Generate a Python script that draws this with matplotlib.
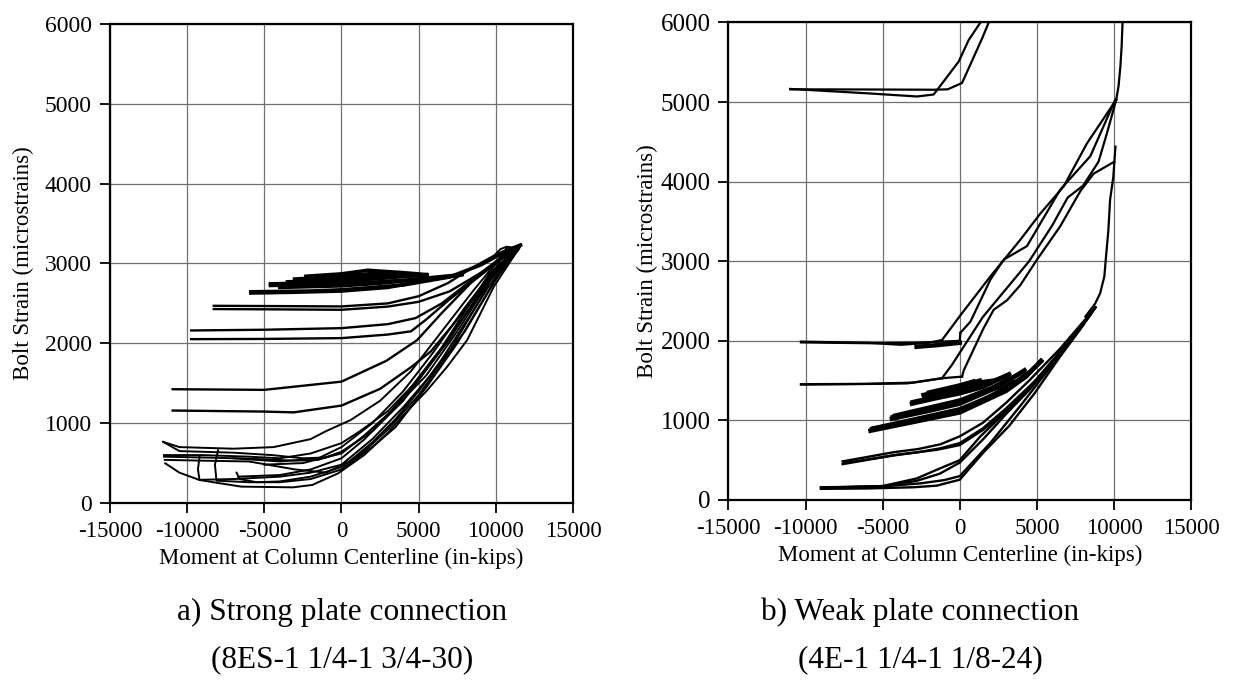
import matplotlib
matplotlib.use("Agg")
import matplotlib.pyplot as plt

plt.rcParams['font.family'] = ['Liberation Serif', 'DejaVu Serif']
plt.rcParams['axes.unicode_minus'] = False

# ---- common axis data ----
x_ticks = [-15000, -10000, -5000, 0, 5000, 10000, 15000]
y_ticks = [0, 1000, 2000, 3000, 4000, 5000, 6000]
x_label = 'Moment at Column Centerline (in-kips)'
y_label = 'Bolt Strain (microstrains)'

# ---- a) strong plate (moment, strain) ----
# dense band at the top (late cycles)
strong_band_x = [
    [-5870, -3000, 0, 3000, 5500, 7800],
    [-5870, -2000, 0, 4000, 7000, 9000, 10800, 11600],
    [-4600, -2000, 0, 3000, 5500],
    [-4600, 0, 4000, 7800],
    [-3040, 0, 2000, 4000],
    [-2300, 0, 1700, 4000, 5550],
    [-2300, 0, 3000, 5550],
    [-3500, 0, 2500, 4200],
    [-4000, 0, 3000, 5000],
]
strong_band_y = [
    [2630, 2640, 2655, 2700, 2790, 2860],
    [2645, 2655, 2670, 2730, 2830, 2980, 3170, 3230],
    [2745, 2755, 2775, 2820, 2860],
    [2725, 2740, 2790, 2860],
    [2805, 2840, 2875, 2870],
    [2840, 2870, 2915, 2885, 2860],
    [2815, 2815, 2840, 2850],
    [2770, 2800, 2850, 2860],
    [2700, 2720, 2760, 2800],
]
# pairs of flat branches at 2450, 2100 and 1300 microstrain
strong_pair_x = [
    [-8275, -4000, 0, 3000, 5000, 6900, 8500, 10200, 11600],
    [-8275, -4000, 0, 3000, 5000, 7000, 9000, 11000],
    [-9740, -5000, 0, 3000, 4800, 6500, 8500, 10500, 11500],
    [-9740, -5000, 0, 3000, 4500, 5500, 7000, 9000, 11000],
    [-10940, -5000, 0, 2900, 4900, 6500, 8500, 10500, 11500],
    [-10940, -5000, -3100, 0, 2500, 4500, 5800, 7500, 9500, 11200],
]
strong_pair_y = [
    [2470, 2466, 2462, 2500, 2590, 2755, 2950, 3130, 3230],
    [2429, 2425, 2420, 2460, 2520, 2650, 2880, 3150],
    [2161, 2170, 2190, 2240, 2316, 2500, 2800, 3100, 3220],
    [2052, 2055, 2065, 2110, 2150, 2300, 2550, 2850, 3150],
    [1425, 1417, 1520, 1780, 2040, 2380, 2780, 3100, 3220],
    [1158, 1145, 1135, 1220, 1430, 1700, 1900, 2300, 2800, 3180],
]
# early cycles near the bottom
strong_low_x = [
    [-11550, -10500, -7000, -4400, -2000, -1000, 600, 2500, 4500, 6500, 8500, 10200, 11600],
    [-11550, -10500, -7000, -4500, -2500, -1000, 0, 2000, 4000, 6000, 8000, 10000, 11500],
    [-11500, -9000, -6000, -3000, -1500, 0, 2000, 4000, 6000, 8000, 10000, 11500],
    [-11420, -10500, -9200, -6500, -3140, -1890, -210, 1470, 3000, 4000, 5500, 6840, 8140, 9870, 11600],
    [-11450, -9000, -6000, -3000, -1000, 500, 2000, 3500, 5000, 6500, 8000, 9500, 11000],
    [-9200, -9300, -9200, -7000, -4000, -2000, 0, 2000, 4000, 6000, 8000, 10000, 11600],
    [-8000, -8200, -8100, -6000, -4000, -2000, 0, 2000, 3500, 5500, 7500, 9500, 11300],
    [-6800, -6600, -5500, -4000, -2000, 0, 1500, 3000, 5000, 7000, 9000, 10700],
    [-6700, -4000, -2000, 0, 1500, 3000, 4500, 6500, 8500, 10500],
    [-11500, -9000, -6000, -4000, -2000, 0, 1200, 3000, 5000, 7000, 9000, 11000],
    [-7000, -4000, -1500, 0, 2000, 4000, 6000, 8000, 10000, 11600],
    [-5000, -2500, 0, 1500, 3500, 5500, 7500, 9500, 11400],
    [9800, 10300, 10700, 11100, 11600, 11500, 11000],
]
strong_low_y = [
    [765, 700, 680, 700, 800, 900, 1040, 1280, 1650, 2150, 2650, 3050, 3230],
    [765, 650, 630, 600, 560, 570, 640, 900, 1300, 1800, 2350, 2900, 3200],
    [580, 570, 555, 530, 540, 640, 900, 1280, 1800, 2350, 2900, 3200],
    [497, 380, 288, 205, 196, 226, 372, 600, 880, 1100, 1400, 1705, 2040, 2710, 3220],
    [540, 530, 520, 420, 380, 520, 760, 1050, 1400, 1800, 2250, 2700, 3100],
    [580, 420, 290, 300, 330, 380, 480, 800, 1200, 1650, 2150, 2800, 3230],
    [660, 480, 280, 260, 260, 300, 420, 700, 950, 1450, 2000, 2650, 3200],
    [380, 300, 260, 270, 330, 450, 650, 920, 1350, 1900, 2550, 3200],
    [330, 350, 420, 560, 800, 1100, 1450, 1950, 2550, 3150],
    [600, 600, 580, 560, 620, 750, 900, 1150, 1550, 2050, 2650, 3150],
    [560, 520, 560, 700, 1000, 1400, 1900, 2450, 2950, 3230],
    [480, 500, 620, 850, 1200, 1600, 2150, 2750, 3210],
    [3080, 3180, 3210, 3200, 3240, 3180, 3060],
]

# ---- b) weak plate ----
weak_top_x = [
    [1340, 580, -65, -1690, -2770, -6000, -11000],
    [-11000, -6000, -1690, -780, 150, 1450, 1880],
    [10150, 10300, 10420, 10500, 10560],
]
weak_top_y = [
    [6000, 5780, 5510, 5095, 5070, 5110, 5165],
    [5160, 5158, 5155, 5160, 5240, 5800, 6000],
    [5030, 5200, 5450, 5700, 6000],
]
weak_mid_x = [
    [-1150, 40, 1990, 3930, 5230, 6740, 8250, 10150],
    [40, 690, 1990, 2850, 4360, 6520, 8470, 10090],
    [150, 260, 1550, 2200, 3070, 3930, 5010, 6520, 7820, 8680, 10020],
    [-1150, -500, 500, 1500, 3000, 4500, 6000, 7000, 8000, 9000, 9550, 10150],
    [8150, 8790, 9110, 9380, 9470, 9640, 9750, 9960, 10100],
    [-10300, -6000, -3800, -2000, -1150],
    [-10300, -6000, -3000, -1150, 0, 40],
    [150, -1150, -3400, -7000, -10300],
    [-10300, -6000, -3000, -1150],
]
weak_mid_y = [
    [2010, 2320, 2810, 3270, 3600, 3940, 4480, 5030],
    [2100, 2240, 2770, 3020, 3190, 3900, 4320, 5030],
    [1550, 1630, 2160, 2390, 2510, 2700, 3020, 3440, 3880, 4100, 4250],
    [1530, 1700, 2000, 2300, 2650, 3000, 3450, 3800, 3950, 4250, 4610, 5030],
    [2305, 2470, 2600, 2810, 3020, 3390, 3770, 4060, 4440],
    [1990, 1975, 1950, 1975, 2010],
    [1980, 1970, 1975, 1990, 2000, 2100],
    [1550, 1530, 1465, 1455, 1450],
    [1455, 1460, 1475, 1530],
]
weak_low_x = [
    [-9000, -6000, -3000, -1500, 0, 1500, 3200, 4850, 6500, 7800, 8800],
    [8800, 7500, 6000, 4500, 3000, 1500, 0, -1300, -2800, -5000, -9000],
    [-9000, -5000, -2800, -1250, 0, 1340, 2200, 3500, 5000, 7000, 8800],
    [-9000, -5000, -2500, -1000, 0, 2000, 4000, 6000, 8000],
    [-7600, -4300, -2700, -1250, 0, 1500, 3000, 4500, 6500, 8500],
    [-7600, -4300, -2700, -1250, 0, 1500, 3000, 4800, 6500, 8500],
    [-7500, -4000, -1500, 0, 1500, 3200, 5000, 7000, 8800],
]
weak_low_y = [
    [140, 145, 160, 180, 255, 590, 930, 1340, 1800, 2140, 2420],
    [2420, 2080, 1720, 1380, 1080, 760, 470, 330, 240, 175, 150],
    [155, 175, 270, 400, 500, 800, 960, 1200, 1500, 1950, 2420],
    [160, 170, 210, 250, 300, 720, 1200, 1700, 2200],
    [485, 600, 640, 700, 800, 970, 1220, 1500, 1900, 2350],
    [450, 560, 600, 650, 715, 900, 1150, 1480, 1850, 2330],
    [465, 570, 630, 690, 880, 1150, 1520, 1980, 2420],
]
# thick bands from many repeated small cycles
weak_band_x = [
    [-5790, -3000, 0, 3000, 4300, 5270],
    [-5700, -3000, 0, 3000, 4500, 5270],
    [-5600, -3000, 0, 2000, 3500],
    [-4400, -2000, 0, 2500, 4200],
    [-4350, -2000, 0, 2500, 4100],
    [-4200, -2000, 0, 2000, 3200],
    [-3100, -1500, 0, 1500, 3200],
    [-3050, 0, 1500, 3000],
    [-2350, 0, 1300],
    [-2300, 0, 1400, 2200],
    [-2000, 0, 900],
    [-2800, -1500, 0],
]
weak_band_y = [
    [870, 980, 1100, 1370, 1550, 1750],
    [890, 1000, 1120, 1400, 1600, 1740],
    [900, 1010, 1140, 1300, 1480],
    [1020, 1120, 1210, 1420, 1630],
    [1040, 1140, 1230, 1440, 1610],
    [1060, 1160, 1250, 1400, 1520],
    [1210, 1280, 1340, 1420, 1580],
    [1230, 1360, 1440, 1560],
    [1320, 1420, 1500],
    [1300, 1400, 1480, 1500],
    [1350, 1440, 1490],
    [1925, 1945, 1975],
]

fig = plt.figure(figsize=(12.47, 6.81), dpi=100)
ax1 = fig.add_axes([0.0882, 0.2614, 0.3713, 0.7034])
ax2 = fig.add_axes([0.5842, 0.2658, 0.3709, 0.7012])


def draw(ax, xs, ys, lw):
    for x, y in zip(xs, ys):
        ax.plot(x, y, color='black', linewidth=lw, solid_joinstyle='round')


draw(ax1, strong_low_x, strong_low_y, 1.4)
draw(ax1, strong_pair_x, strong_pair_y, 1.7)
draw(ax1, strong_band_x, strong_band_y, 2.6)

draw(ax2, weak_top_x, weak_top_y, 1.6)
draw(ax2, weak_mid_x, weak_mid_y, 1.6)
draw(ax2, weak_low_x, weak_low_y, 1.7)
draw(ax2, weak_band_x, weak_band_y, 3.2)

for ax, ysize, ypad in [(ax1, 17, 8), (ax2, 18, 2)]:
    ax.set_xlim(-15000, 15000)
    ax.set_ylim(0, 6000)
    ax.set_xticks(x_ticks)
    ax.set_yticks(y_ticks)
    ax.grid(True, color='#707070', linewidth=0.9)
    ax.set_axisbelow(True)
    for sp in ax.spines.values():
        sp.set_linewidth(1.6)
    ax.tick_params(direction='out', length=7, width=1.3, pad=6)
    ax.tick_params(axis='x', labelsize=16.5)
    ax.tick_params(axis='y', labelsize=ysize)
    ax.set_xlabel(x_label, fontsize=16.5, labelpad=4)
    ax.set_ylabel(y_label, fontsize=16.5, labelpad=ypad)

fig.text(342 / 1247, 1 - 612 / 681, 'a) Strong plate connection',
         ha='center', va='center', fontsize=22.5)
fig.text(342 / 1247, 1 - 660 / 681, '(8ES-1 1/4-1 3/4-30)',
         ha='center', va='center', fontsize=22.5)
fig.text(920 / 1247, 1 - 612 / 681, 'b) Weak plate connection',
         ha='center', va='center', fontsize=22.5)
fig.text(920 / 1247, 1 - 660 / 681, '(4E-1 1/4-1 1/8-24)',
         ha='center', va='center', fontsize=22.5)

fig.savefig('out.png', dpi=100)
